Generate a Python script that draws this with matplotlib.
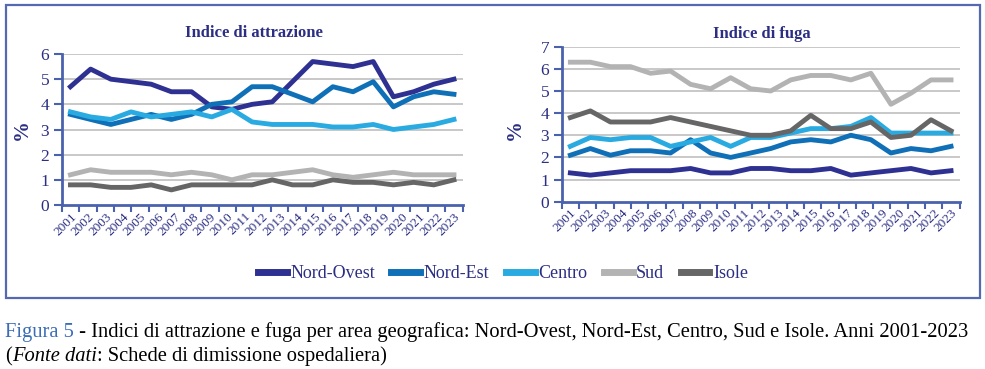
import numpy as np
import matplotlib
matplotlib.use('Agg')
import matplotlib.pyplot as plt
from matplotlib.patches import Rectangle

plt.rcParams['font.family'] = ['Liberation Serif', 'DejaVu Serif']

# Dati
anni = [str(a) for a in range(2001, 2024)]
aree = ['Nord-Ovest', 'Nord-Est', 'Centro', 'Sud', 'Isole']
colori = ['#2e3192', '#0f70b7', '#29abe2', '#b3b3b3', '#666666']

# Indice di attrazione (%)
attr_nord_ovest = [4.7, 5.4, 5.0, 4.9, 4.8, 4.5, 4.5, 3.9, 3.8, 4.0, 4.1, 4.9, 5.7, 5.6, 5.5, 5.7, 4.3, 4.5, 4.8, 5.0]
attr_nord_est = [3.6, 3.4, 3.2, 3.4, 3.6, 3.4, 3.6, 4.0, 4.1, 4.7, 4.7, 4.4, 4.1, 4.7, 4.5, 4.9, 3.9, 4.3, 4.5, 4.4]
attr_centro = [3.7, 3.5, 3.4, 3.7, 3.5, 3.6, 3.7, 3.5, 3.8, 3.3, 3.2, 3.2, 3.2, 3.1, 3.1, 3.2, 3.0, 3.1, 3.2, 3.4]
attr_sud = [1.2, 1.4, 1.3, 1.3, 1.3, 1.2, 1.3, 1.2, 1.0, 1.2, 1.2, 1.3, 1.4, 1.2, 1.1, 1.2, 1.3, 1.2, 1.2, 1.2]
attr_isole = [0.8, 0.8, 0.7, 0.7, 0.8, 0.6, 0.8, 0.8, 0.8, 0.8, 1.0, 0.8, 0.8, 1.0, 0.9, 0.9, 0.8, 0.9, 0.8, 1.0]

# Indice di fuga (%)
fuga_nord_ovest = [1.3, 1.2, 1.3, 1.4, 1.4, 1.4, 1.5, 1.3, 1.3, 1.5, 1.5, 1.4, 1.4, 1.5, 1.2, 1.3, 1.4, 1.5, 1.3, 1.4]
fuga_nord_est = [2.1, 2.4, 2.1, 2.3, 2.3, 2.2, 2.8, 2.2, 2.0, 2.2, 2.4, 2.7, 2.8, 2.7, 3.0, 2.8, 2.2, 2.4, 2.3, 2.5]
fuga_centro = [2.5, 2.9, 2.8, 2.9, 2.9, 2.5, 2.7, 2.9, 2.5, 2.9, 2.9, 3.1, 3.3, 3.3, 3.4, 3.8, 3.1, 3.1, 3.1, 3.1]
fuga_sud = [6.3, 6.3, 6.1, 6.1, 5.8, 5.9, 5.3, 5.1, 5.6, 5.1, 5.0, 5.5, 5.7, 5.7, 5.5, 5.8, 4.4, 4.9, 5.5, 5.5]
fuga_isole = [3.8, 4.1, 3.6, 3.6, 3.6, 3.8, 3.6, 3.4, 3.2, 3.0, 3.0, 3.2, 3.9, 3.3, 3.3, 3.6, 2.9, 3.0, 3.7, 3.2]

blu_testo = '#2b2e83'
blu_asse = '#4a62ad'

fig = plt.figure(figsize=(9.85, 3.69), dpi=100)


def disegna(ax, serie, ymax):
    for nome, col, val in zip(aree, colori, serie):
        x = np.linspace(0, len(anni) - 1, len(val))
        ax.plot(x, val, color=col, lw=3.5, label=nome, zorder=3)
    ax.set_xlim(-0.5, len(anni) - 0.5)
    ax.set_ylim(0, ymax)
    ax.set_yticks(range(ymax + 1))
    ax.set_xticks(np.arange(len(anni)))
    ax.set_xticklabels(anni, rotation=45, ha='right', va='top',
                       rotation_mode='anchor', fontsize=9.5, color=blu_testo)
    ax.set_xticks(np.arange(-0.5, len(anni)), minor=True)
    ax.tick_params(axis='x', which='major', length=0, pad=4)
    ax.tick_params(axis='x', which='minor', length=5, width=1.5, color=blu_asse)
    ax.tick_params(axis='y', length=6, width=1.5, color=blu_asse,
                   labelsize=12.5, labelcolor=blu_testo, pad=3)
    for y in range(1, ymax + 1):
        ax.axhline(y, color='#c4c4c4', lw=1.3, zorder=1)
    for s in ['top', 'right']:
        ax.spines[s].set_visible(False)
    for s in ['left', 'bottom']:
        ax.spines[s].set_color(blu_asse)
        ax.spines[s].set_linewidth(2)
        ax.spines[s].set_zorder(4)


ax1 = fig.add_axes([61.7 / 985, 1 - 205 / 369, 401 / 985, 151 / 369])
disegna(ax1, [attr_nord_ovest, attr_nord_est, attr_centro, attr_sud, attr_isole], 6)
ax2 = fig.add_axes([561.7 / 985, 1 - 201.7 / 369, 398 / 985, 155 / 369])
disegna(ax2, [fuga_nord_ovest, fuga_nord_est, fuga_centro, fuga_sud, fuga_isole], 7)

# Titoli e etichette asse y
fig.text(254 / 985, 1 - 33 / 369, 'Indice di attrazione', ha='center', va='center',
         fontsize=12, fontweight='bold', color=blu_testo)
fig.text(762 / 985, 1 - 34 / 369, 'Indice di fuga', ha='center', va='center',
         fontsize=12, fontweight='bold', color=blu_testo)
fig.text(22 / 985, 1 - 130 / 369, '%', rotation=90, ha='center', va='center',
         fontsize=15, fontweight='bold', color=blu_testo)
fig.text(515 / 985, 1 - 130 / 369, '%', rotation=90, ha='center', va='center',
         fontsize=15, fontweight='bold', color=blu_testo)

# Legenda
handles, labels = ax1.get_legend_handles_labels()
leg = fig.legend(handles, labels, loc='center', bbox_to_anchor=(503 / 985, 1 - 274 / 369),
                 ncol=5, frameon=False, fontsize=13, handlelength=1.6,
                 handletextpad=0.2, columnspacing=0.9)
for line in leg.get_lines():
    line.set_linewidth(5)
for t in leg.get_texts():
    t.set_color(blu_testo)

# Cornice
fig.add_artist(Rectangle((6 / 985, 1 - 298 / 369), 974 / 985, 293 / 369,
                         transform=fig.transFigure, fill=False,
                         edgecolor='#5469b2', lw=1.6))

# Didascalia
fs = 14.8
t1 = fig.text(5 / 985, 1 - 342 / 369, 'Figura 5', color='#3a6db4', fontsize=fs, va='bottom')
ax1.annotate(' - Indici di attrazione e fuga per area geografica: Nord-Ovest, Nord-Est, '
             'Centro, Sud e Isole. Anni 2001-2023',
             xy=(1, 0), xycoords=t1, va='bottom', ha='left', fontsize=fs,
             color='black', annotation_clip=False)
t2 = fig.text(5 / 985, 1 - 366 / 369, '(', color='black', fontsize=fs, va='bottom')
t3 = ax1.annotate('Fonte dati', xy=(1, 0), xycoords=t2, va='bottom', ha='left',
                  fontsize=fs, style='italic', annotation_clip=False)
ax1.annotate(': Schede di dimissione ospedaliera)', xy=(1, 0), xycoords=t3,
             va='bottom', ha='left', fontsize=fs, annotation_clip=False)

fig.savefig('out.png', dpi=100)
